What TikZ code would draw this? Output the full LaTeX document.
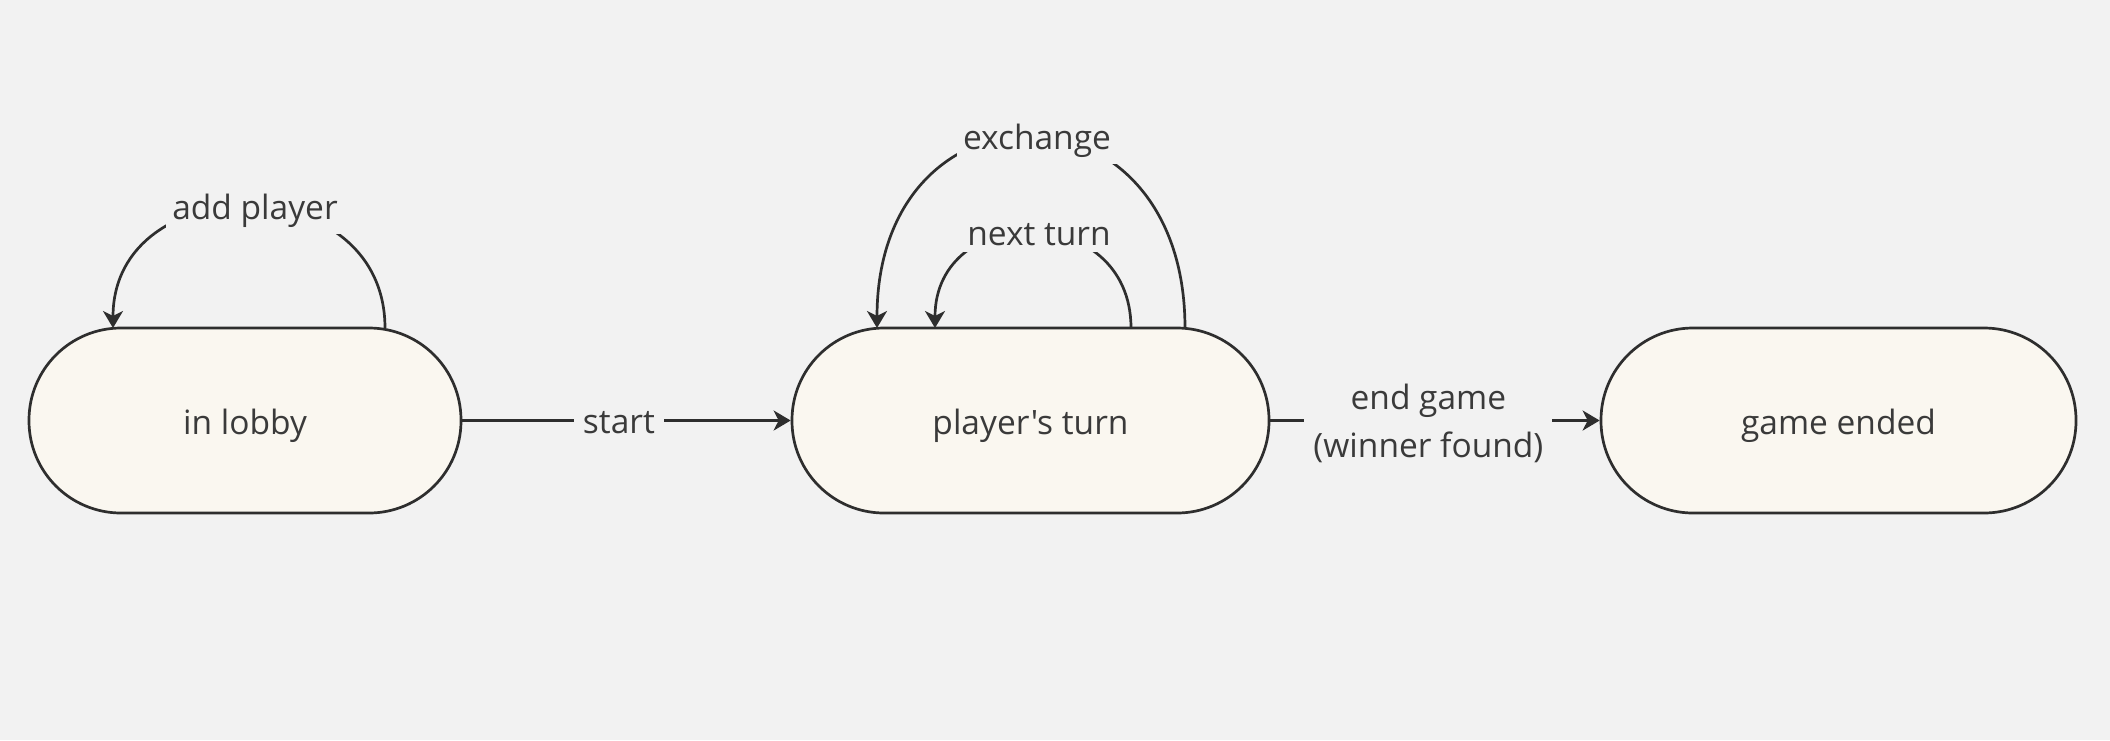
\documentclass[tikz,border=0pt]{standalone}
\usepackage{fontspec}
\setmainfont{Open Sans}
\newfontfamily\osans{Open Sans}
\usetikzlibrary{arrows.meta}
\definecolor{bg}{HTML}{F2F2F2}
\definecolor{boxfill}{HTML}{FAF7F0}
\definecolor{ink}{HTML}{2E2E2E}
\definecolor{txt}{HTML}{3A3A3A}
\begin{document}
\begin{tikzpicture}[x=1pt,y=-1pt,
  state/.style={draw=ink, line width=2.7pt, fill=boxfill, rectangle, rounded corners=92pt,
    minimum height=185pt, text=txt, font=\osans\fontsize{33.5}{45}\selectfont, inner sep=0pt,
    text height=33pt, text depth=6pt},
  conn/.style={draw=ink, line width=2.7pt, -{Stealth[length=17pt,width=20pt,inset=5pt]}},
  lbl/.style={fill=bg, text=txt, font=\osans\fontsize{33.5}{48}\selectfont, inner sep=9pt, align=center}]
\fill[bg] (0,0) rectangle (2110,740);
\useasboundingbox (0,0) rectangle (2110,740);

\node[state, minimum width=432pt] (lobby) at (245,420.5) {in lobby};
\node[state, minimum width=477pt] (turn) at (1030.5,420.5) {player's turn};
\node[state, minimum width=475pt] (ended) at (1838.5,420.5) {game ended};

\coordinate (lobA) at (385,328);
\coordinate (lobB) at (113,328);
\coordinate (ntA) at (1131,328);
\coordinate (ntB) at (935,328);
\coordinate (exA) at (1185,328);
\coordinate (exB) at (877,328);

\draw[conn] (lobby.east) -- node[lbl, pos=0.477, yshift=-2pt] (startlbl) {start} (turn.west);
\draw[conn] (turn.east) -- node[lbl, pos=0.48, yshift=-3pt] (endlbl) {end game\\(winner found)} (ended.west);

\draw[conn] (lobA) .. controls (385,167) and (113,167) .. node[lbl, pos=0.5, xshift=6pt, yshift=-4pt, inner sep=6pt] (addlbl) {add player} (lobB);
\draw[conn] (ntA) .. controls (1131,201) and (935,201) .. node[lbl, pos=0.5, xshift=6pt, yshift=-2pt, inner sep=6pt] (ntlbl) {next turn} (ntB);
\draw[conn] (exA) .. controls (1185,73) and (877,73) .. node[lbl, pos=0.5, xshift=6pt, yshift=-4pt, inner sep=6pt] (exlbl) {exchange} (exB);
\end{tikzpicture}
\end{document}
